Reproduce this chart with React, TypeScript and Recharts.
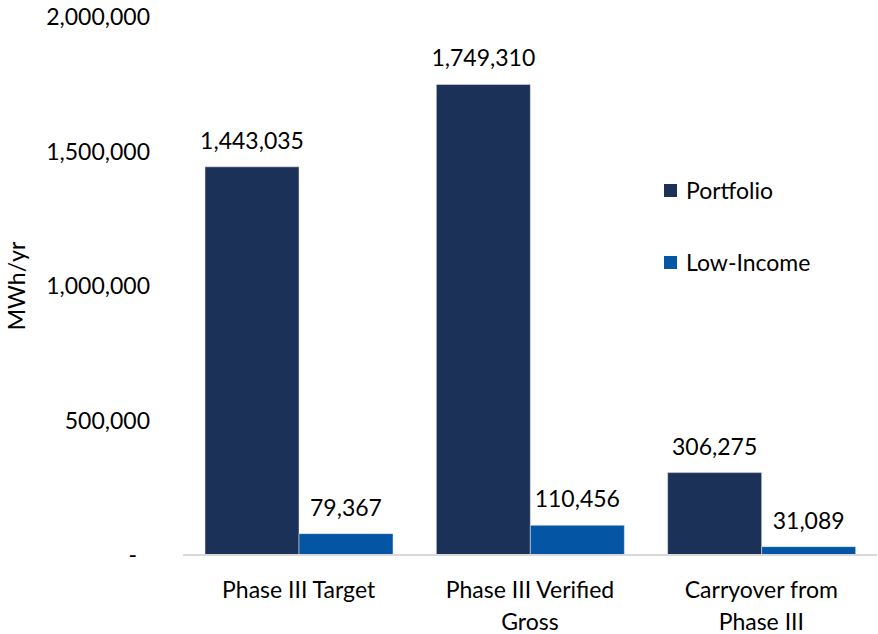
import { BarChart, Bar, XAxis, YAxis, LabelList } from "recharts";

const categories = [
  ["Phase III Target"],
  ["Phase III Verified", "Gross"],
  ["Carryover from", "Phase III"],
];
const portfolio = [1443035, 1749310, 306275];
const lowIncome = [79367, 110456, 31089];
const yTicks = [0, 500000, 1000000, 1500000, 2000000];

const NAVY = "#1B3157";
const BLUE = "#0455A4";
const FONT = "Lato, 'Open Sans', sans-serif";
const FS = 23;

const data = categories.map((c, i) => ({
  name: c.join(" "),
  portfolio: portfolio[i],
  lowIncome: lowIncome[i],
}));

const fmt = (v: number) => v.toLocaleString("en-US");

function YTick({ x, y, payload }: any) {
  const v = payload.value as number;
  return (
    <text
      x={v === 0 ? x - 13 : x}
      y={y}
      dy="0.35em"
      textAnchor="end"
      fontSize={FS}
      fontFamily={FONT}
      fill="#000"
    >
      {v === 0 ? "-" : fmt(v)}
    </text>
  );
}

function XTick({ x, y, payload, index }: any) {
  const lines = categories[index] ?? [payload.value];
  return (
    <text x={x} y={y} textAnchor="middle" fontSize={FS} fontFamily={FONT} fill="#000">
      {lines.map((l, i) => (
        <tspan key={i} x={x} dy={i === 0 ? "0.75em" : 32}>
          {l}
        </tspan>
      ))}
    </text>
  );
}

function Legend() {
  const items = [
    { label: "Portfolio", color: NAVY, top: 190 },
    { label: "Low-Income", color: BLUE, top: 262 },
  ];
  return (
    <>
      {items.map((it) => (
        <div
          key={it.label}
          style={{
            position: "absolute",
            left: 664,
            top: it.top - 15,
            height: 30,
            display: "flex",
            alignItems: "center",
            fontFamily: FONT,
            fontSize: FS,
            color: "#000",
          }}
        >
          <span style={{ width: 13, height: 13, background: it.color, marginRight: 9 }} />
          {it.label}
        </div>
      ))}
    </>
  );
}

export default function App() {
  return (
    <div style={{ position: "absolute", left: 0, top: 0, width: 878, height: 634, background: "#fff" }}>
      <BarChart
        width={878}
        height={634}
        data={data}
        margin={{ top: 17, right: 1, bottom: 0, left: 0 }}
        barCategoryGap={22}
        barGap={0}
      >
        <YAxis
          width={183}
          domain={[0, 2000000]}
          ticks={yTicks}
          interval={0}
          axisLine={false}
          tickLine={false}
          tickMargin={0}
          tickSize={33}
          tick={<YTick />}
          label={{
            value: "MWh/yr",
            angle: -90,
            position: "insideLeft",
            offset: 17,
            style: { textAnchor: "middle", fontFamily: FONT, fontSize: FS, fill: "#000" },
          }}
        />
        <XAxis
          dataKey="name"
          height={79}
          axisLine={{ stroke: "#D9D9D9", strokeWidth: 2 }}
          tickLine={false}
          tickSize={0}
          tickMargin={26}
          interval={0}
          tick={<XTick />}
        />
        <Bar dataKey="portfolio" fill={NAVY} stroke="#E8ECF3" strokeWidth={0.5} isAnimationActive={false}>
          <LabelList
            dataKey="portfolio"
            position="top"
            offset={18}
            formatter={(v: any) => fmt(v as number)}
            style={{ fontFamily: FONT, fontSize: FS, fill: "#000" }}
          />
        </Bar>
        <Bar dataKey="lowIncome" fill={BLUE} stroke="#E8ECF3" strokeWidth={0.5} isAnimationActive={false}>
          <LabelList
            dataKey="lowIncome"
            position="top"
            offset={18}
            formatter={(v: any) => fmt(v as number)}
            style={{ fontFamily: FONT, fontSize: FS, fill: "#000" }}
          />
        </Bar>
      </BarChart>
      <Legend />
    </div>
  );
}
